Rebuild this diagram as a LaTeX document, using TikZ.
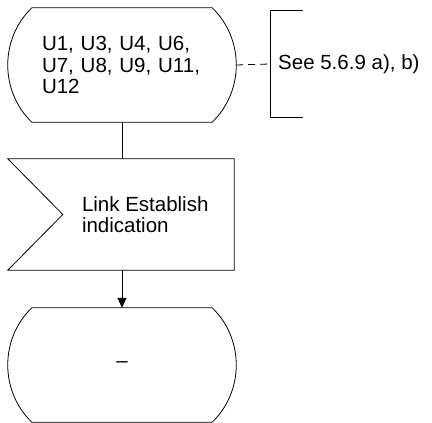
\documentclass[tikz,border=0pt]{standalone}
\usepackage{fontspec}
\setmainfont{Liberation Sans}
\usepackage{tikz}
\usetikzlibrary{positioning, arrows.meta, calc}
\tikzset{
  estado/.style={rectangle, draw=none, minimum width=228pt, minimum height=114pt, inner sep=0pt, text width=160pt, align=left},
  senal/.style={rectangle, draw=none, minimum width=226pt, minimum height=111pt, inner sep=0pt},
  texto/.style={inner sep=0pt, align=left},
  linea/.style={line width=0.8pt},
  flecha/.style={line width=0.8pt, -{Triangle[length=10pt,width=9pt]}}
}
\newcommand{\sdlestado}[1]{
    \draw[linea] ([xshift=24pt]#1.north west) -- ([xshift=-24pt]#1.north east)
        to[bend left=46] ([xshift=-24pt]#1.south east)
        -- ([xshift=24pt]#1.south west)
        to[bend left=46] cycle;
}
\begin{document}
\begin{tikzpicture}[x=1pt, y=-1pt, font=\fontsize{20.5}{21.5}\selectfont]
        \useasboundingbox (0,0) rectangle (432,423);

        % ==========================================
        % 1. Estado inicial
        % ==========================================
        \node[estado] (st1) at (122, 65) {U1, U3, U4, U6,\\U7, U8, U9, U11,\\U12};
        \sdlestado{st1}

        % Comentario (extension de texto)
        \node[texto, minimum height=106pt, inner xsep=8pt, anchor=west] (nota) at (270, 64) {See 5.6.9 a), b)};
        \draw[linea] ([xshift=33pt]nota.north west) -- (nota.north west) -- (nota.south west) -- ([xshift=33pt]nota.south west);
        \draw[linea, dash pattern=on 7pt off 5pt] (st1.east) -- (nota.west);

        % ==========================================
        % 2. Senal de entrada
        % ==========================================
        \node[senal] (sig) at (121, 214.5) {};
        \draw[linea] (sig.north west) -- (sig.north east) -- (sig.south east) -- (sig.south west) -- ([xshift=55pt]sig.west) -- cycle;
        \node[texto, anchor=west] (sigtxt) at ([xshift=74pt]sig.west) {Link Establish\\indication};

        % ==========================================
        % 3. Estado siguiente
        % ==========================================
        \node[estado, align=center] (st2) at (122, 365) {--};
        \sdlestado{st2}

        % Conexiones
        \draw[linea] (st1.south) -- (st1.south |- sig.north);
        \draw[flecha] (st1.south |- sig.south) -- (st2.north);
\end{tikzpicture}
\end{document}
